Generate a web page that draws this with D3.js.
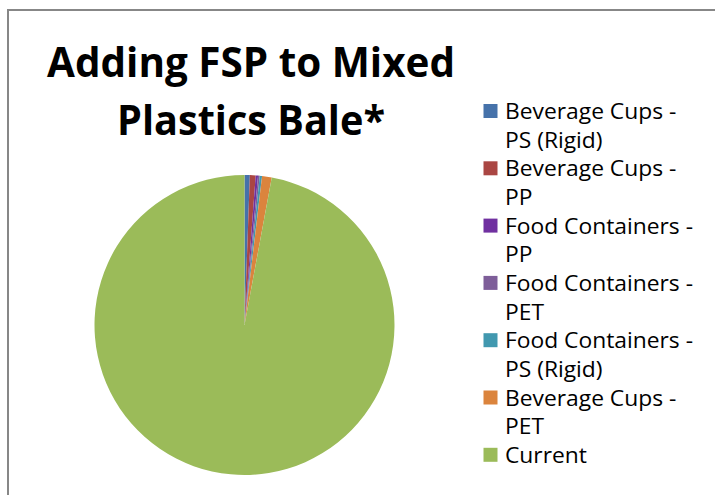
<!DOCTYPE html>
<html>
<head>
<meta charset="utf-8">
<script src="https://cdn.jsdelivr.net/npm/d3@7"></script>
<style>
  html, body { margin: 0; padding: 0; background: #ffffff; }
  svg { display: block; }
</style>
</head>
<body>
<svg id="chart" width="715" height="495"></svg>
<script>
const titleLines = ["Adding FSP to Mixed", "Plastics Bale*"];
const categories = [
  "Beverage Cups - PS (Rigid)",
  "Beverage Cups - PP",
  "Food Containers - PP",
  "Food Containers - PET",
  "Food Containers - PS (Rigid)",
  "Beverage Cups - PET",
  "Current"
];
const legendLines = [
  ["Beverage Cups -", "PS (Rigid)"],
  ["Beverage Cups -", "PP"],
  ["Food Containers -", "PP"],
  ["Food Containers -", "PET"],
  ["Food Containers -", "PS (Rigid)"],
  ["Beverage Cups -", "PET"],
  ["Current"]
];
const values = [0.57, 0.62, 0.25, 0.18, 0.25, 1.04, 97.09];
const colors = ["#4672AA", "#AA4643", "#7030A0", "#7E5E99", "#4198AF", "#DB843D", "#9BBB59"];

const svg = d3.select("#chart");

// chart area border (only left and top visible in frame)
svg.append("rect")
  .attr("x", 8).attr("y", 10)
  .attr("width", 720).attr("height", 500)
  .attr("fill", "#ffffff")
  .attr("stroke", "#878787")
  .attr("stroke-width", 2);

// title
const titleFont = "'Open Sans', 'DejaVu Sans', sans-serif";
const titleY = [77, 135];
const titleW = [408, 268];
const titleCx = 251;
titleLines.forEach((t, i) => {
  svg.append("text")
    .attr("x", titleCx).attr("y", titleY[i])
    .attr("text-anchor", "middle")
    .attr("font-family", titleFont)
    .attr("font-weight", "bold")
    .attr("font-size", 40.5)
    .attr("fill", "#000000")
    .attr("textLength", titleW[i])
    .attr("lengthAdjust", "spacingAndGlyphs")
    .text(t);
});

// pie
const cx = 244.5, cy = 325, r = 150;
const pie = d3.pie().sort(null).value(d => d)(values);
const arc = d3.arc().innerRadius(0).outerRadius(r);
const color = d3.scaleOrdinal().domain(categories).range(colors);
svg.append("g")
  .attr("transform", `translate(${cx},${cy})`)
  .selectAll("path")
  .data(pie)
  .join("path")
  .attr("d", arc)
  .attr("fill", (d, i) => color(categories[i]));

// legend
const legendFont = "'Open Sans', 'DejaVu Sans', sans-serif";
const legendFs = 22;
const lineH = 28.65;
const firstBase = 119;
const swX = 483.5, swSize = 14;
const textX = 505;
const legend = svg.append("g");
let lineIdx = 0;
const texts = [];
legendLines.forEach((lines, i) => {
  const base = firstBase + lineIdx * lineH;
  legend.append("rect")
    .attr("x", swX).attr("y", base - 8 - swSize / 2)
    .attr("width", swSize).attr("height", swSize)
    .attr("fill", color(categories[i]));
  lines.forEach((ln, j) => {
    const t = legend.append("text")
      .attr("x", textX).attr("y", base + j * lineH)
      .attr("font-family", legendFont)
      .attr("font-size", legendFs)
      .attr("fill", "#000000")
      .text(ln);
    texts.push(t);
  });
  lineIdx += lines.length;
});
// compress horizontally so "Food Containers -" spans ~188px like the reference
const refNode = texts.find(t => t.text() === "Food Containers -").node();
const factor = 188 / refNode.getComputedTextLength();
texts.forEach(t => {
  const w = t.node().getComputedTextLength();
  t.attr("textLength", w * factor).attr("lengthAdjust", "spacingAndGlyphs");
});
</script>
</body>
</html>
